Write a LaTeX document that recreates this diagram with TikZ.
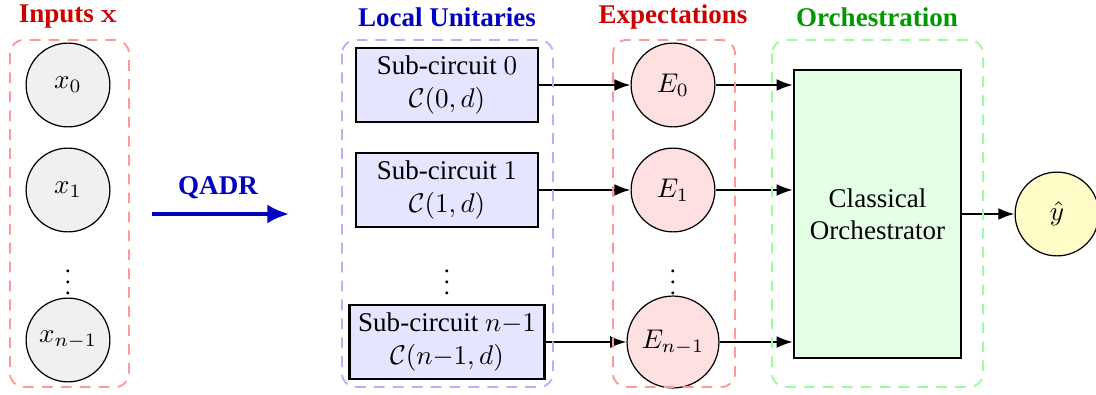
\documentclass[tikz,border=0pt]{standalone}
\usepackage[no-math]{fontspec}
\setmainfont{Liberation Serif}
\usetikzlibrary{arrows.meta}
\definecolor{tred}{RGB}{204,0,0}
\definecolor{tblue}{RGB}{0,0,190}
\definecolor{tgreen}{RGB}{0,153,0}
\tikzset{
  grp/.style={draw, dashed, rounded corners=5pt, line width=0.7pt, dash pattern=on 4pt off 3pt},
  ttl/.style={font=\bfseries, inner sep=0pt},
  inp/.style={circle, draw, fill=black!6, minimum size=31pt, inner sep=0pt, line width=0.45pt},
  expc/.style={circle, draw, fill=red!12, minimum size=31pt, inner sep=0pt, line width=0.45pt},
  outc/.style={circle, draw, fill=yellow!22, minimum size=31pt, inner sep=0pt, line width=0.45pt},
  sub/.style={rectangle, draw, fill=blue!10, line width=0.9pt, minimum height=27.4pt, align=center, inner sep=1pt},
  orchbox/.style={rectangle, draw, fill=green!10, line width=0.9pt, minimum width=61.8pt, minimum height=106.6pt, align=center},
  conn/.style={-{Latex[length=6pt,width=4.4pt]}, line width=0.75pt},
  dts/.style={inner sep=0pt, font=\small}
}
\begin{document}
\begin{tikzpicture}[x=0.37pt,y=-0.37pt]
\useasboundingbox (0,0) rectangle (1096,395);
% titles
\node[ttl, text=tred] (tin) at (68,17) {Inputs $\mathbf{x}$};
\node[ttl, text=tblue] (tlu) at (447,17) {Local Unitaries};
\node[ttl, text=tred] (tex) at (673,17) {Expectations};
\node[ttl, text=tgreen] (tor) at (877,17) {Orchestration};
% inputs
\node[inp] (x0) at (68,85) {$x_0$};
\node[inp] (x1) at (68,190) {$x_1$};
\node[dts] (xd) at (68,274) {$\vdots$};
\node[inp] (xn) at (68,340) {$x_{n-1}$};
% QADR arrow
\coordinate (qa) at (152,214);
\coordinate (qb) at (289,214);
\draw[-{Latex[length=8pt,width=7pt]}, line width=1.3pt, tblue] (qa) -- (qb);
\node[ttl, text=tblue] (ql) at (218,188) {QADR};
% sub-circuits
\node[sub, minimum width=67.3pt] (s0) at (447,85) {Sub-circuit $0$\\$\mathcal{C}(0,d)$};
\node[sub, minimum width=67.3pt] (s1) at (447,190) {Sub-circuit $1$\\$\mathcal{C}(1,d)$};
\node[dts] (sd) at (447,274) {$\vdots$};
\node[sub, minimum width=72pt] (sn) at (447,342) {Sub-circuit $n{-}1$\\$\mathcal{C}(n{-}1,d)$};
% expectations
\node[expc] (e0) at (673,85) {$E_0$};
\node[expc] (e1) at (673,190) {$E_1$};
\node[dts] (ed) at (673,274) {$\vdots$};
\node[expc, minimum size=34pt] (en) at (673,342) {$E_{n-1}$};
% orchestrator
\node[orchbox] (orch) at (877.5,214) {Classical\\Orchestrator};
\node[outc] (y) at (1057,214) {$\hat{y}$};
% connectors
\draw[conn] (s0.east) -- (e0.west);
\draw[conn] (s1.east) -- (e1.west);
\draw[conn] (sn.east) -- (en.west);
\draw[conn] (e0.east) -- (e0.east -| orch.west);
\draw[conn] (e1.east) -- (e1.east -| orch.west);
\draw[conn] (en.east) -- (en.east -| orch.west);
\draw[conn] (orch.east) -- (y.west);
% groups
\draw[grp, red!40] (10,40) rectangle (129,387);
\draw[grp, blue!30] (342,40) rectangle (553,387);
\draw[grp, red!40] (613,40) rectangle (735,387);
\draw[grp, green!40] (772,40) rectangle (983,387);
\end{tikzpicture}
\end{document}
